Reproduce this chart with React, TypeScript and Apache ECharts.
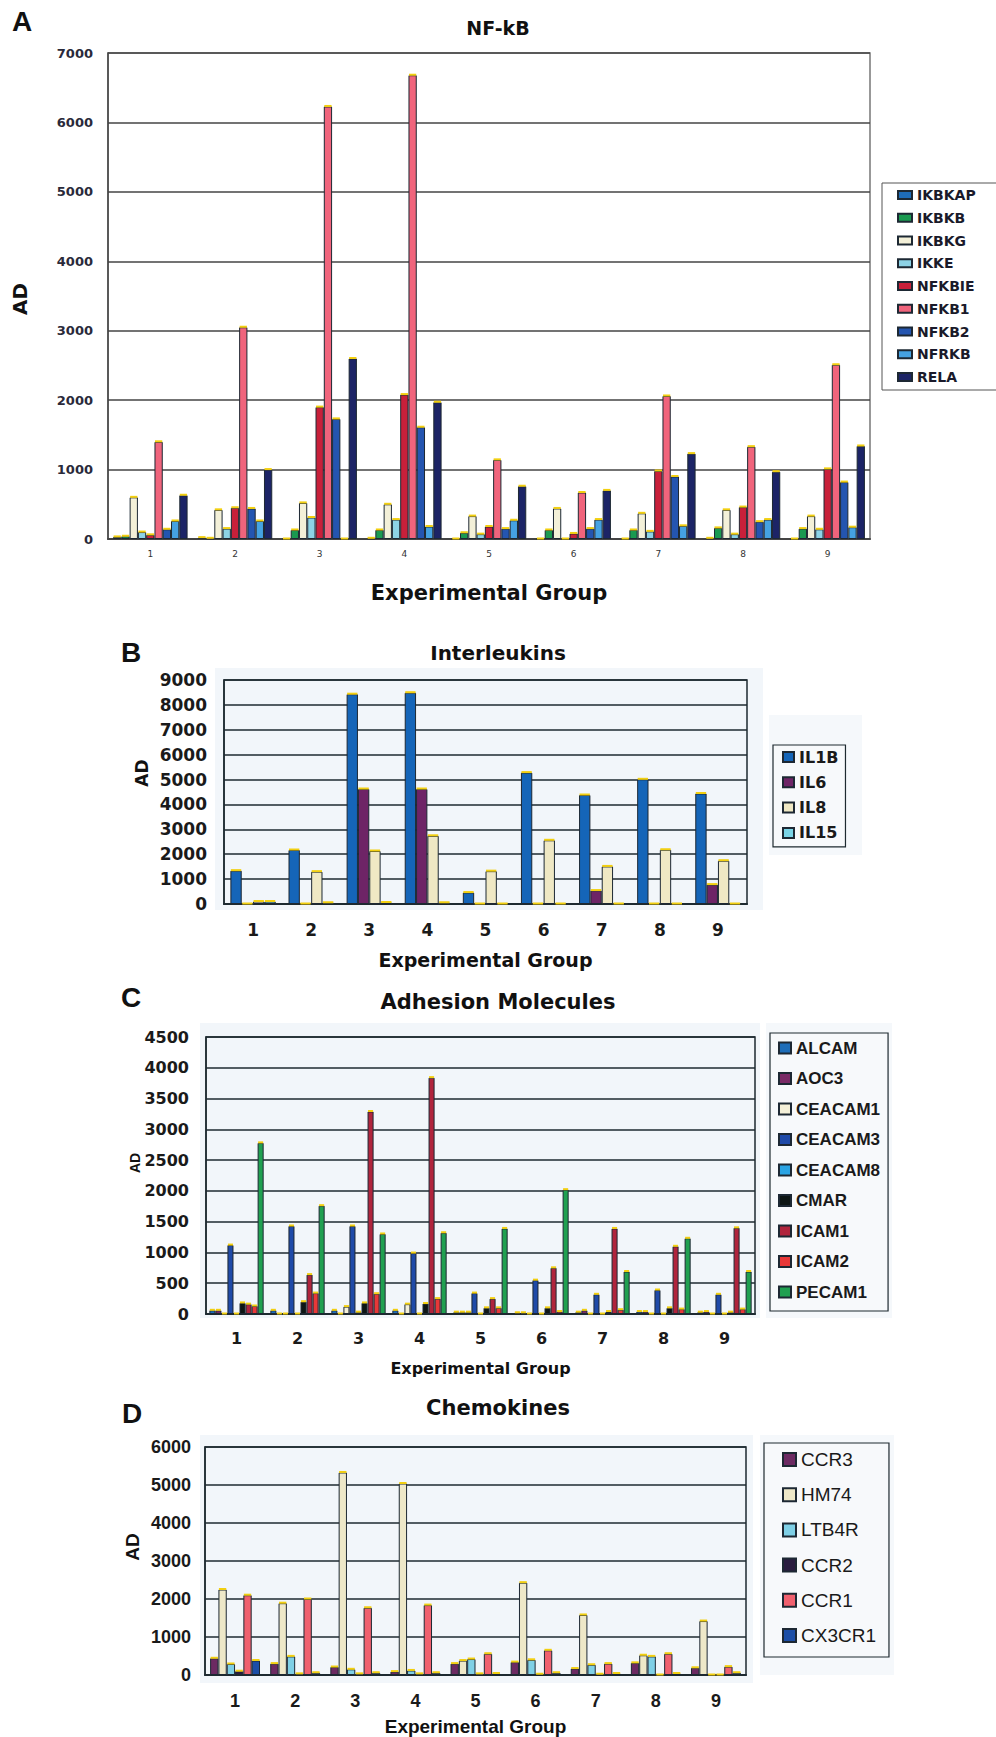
import React, { useEffect, useRef } from 'react';
import * as echarts from 'echarts';

// ---------- shared ----------
const groups = ['1', '2', '3', '4', '5', '6', '7', '8', '9'];

// ---------- Panel A: NF-kB ----------
const nfkbNames = ['IKBKAP', 'IKBKB', 'IKBKG', 'IKKE', 'NFKBIE', 'NFKB1', 'NFKB2', 'NFRKB', 'RELA'];
const ikbkap = [30, 20, 0, 10, 0, 0, 0, 10, 0];
const ikbkb = [40, 10, 130, 130, 90, 130, 130, 160, 150];
const ikbkg = [600, 420, 520, 500, 330, 440, 370, 420, 330];
const ikke = [100, 150, 310, 280, 70, 0, 110, 70, 140];
const nfkbie = [60, 450, 1900, 2080, 180, 80, 980, 460, 1010];
const nfkb1 = [1400, 3050, 6230, 6680, 1140, 670, 2060, 1330, 2510];
const nfkb2 = [140, 440, 1730, 1610, 150, 150, 900, 250, 820];
const nfrkb = [260, 260, 0, 180, 270, 280, 190, 280, 170];
const rela = [630, 1000, 2600, 1970, 760, 700, 1230, 970, 1340];
const nfkbColors = ['#1e6cb8', '#1a9a50', '#f3f0d8', '#8dd3e6', '#c8203a', '#f0647c', '#2455b0', '#45a2e2', '#1c2466'];
const ticksA = [0, 1000, 2000, 3000, 4000, 5000, 6000, 7000];

// ---------- Panel B: Interleukins ----------
const ilNames = ['IL1B', 'IL6', 'IL8', 'IL15'];
const il1b = [1340, 2170, 8430, 8490, 460, 5280, 4380, 5010, 4440];
const il6 = [0, 0, 4620, 4620, 0, 0, 540, 0, 780];
const il8 = [100, 1300, 2130, 2740, 1320, 2560, 1510, 2180, 1740];
const il15 = [100, 50, 60, 50, 0, 0, 0, 0, 0];
const ilColors = ['#1565b8', '#6e2466', '#efe8c4', '#7ad4e6'];
const ticksB = [0, 1000, 2000, 3000, 4000, 5000, 6000, 7000, 8000, 9000];

// ---------- Panel C: Adhesion Molecules ----------
const adhNames = ['ALCAM', 'AOC3', 'CEACAM1', 'CEACAM3', 'CEACAM8', 'CMAR', 'ICAM1', 'ICAM2', 'PECAM1'];
const alcam = [60, 60, 60, 60, 30, 20, 30, 40, 30];
const aoc3 = [60, 0, 0, 0, 30, 20, 60, 40, 40];
const ceacam1 = [0, 0, 120, 160, 30, 0, 0, 0, 0];
const ceacam3 = [1120, 1430, 1430, 990, 340, 550, 320, 390, 320];
const ceacam8 = [0, 0, 30, 0, 0, 0, 0, 0, 0];
const cmar = [180, 200, 180, 170, 100, 100, 40, 100, 30];
const icam1 = [160, 640, 3290, 3840, 250, 750, 1390, 1100, 1400];
const icam2 = [130, 340, 330, 250, 100, 40, 70, 80, 80];
const pecam1 = [2780, 1760, 1300, 1320, 1390, 2020, 690, 1230, 690];
const adhColors = ['#1d6db8', '#7a2a66', '#f4f0d8', '#1f4aa8', '#2aa4e4', '#0e1614', '#b0243c', '#e83838', '#20a050'];
const ticksC = [0, 500, 1000, 1500, 2000, 2500, 3000, 3500, 4000, 4500];

// ---------- Panel D: Chemokines ----------
const chemNames = ['CCR3', 'HM74', 'LTB4R', 'CCR2', 'CCR1', 'CX3CR1'];
const ccr3 = [440, 300, 210, 90, 300, 340, 170, 320, 190];
const hm74 = [2250, 1890, 5330, 5040, 380, 2430, 1580, 520, 1420];
const ltb4r = [290, 490, 150, 120, 420, 400, 270, 490, 0];
const ccr2 = [100, 30, 30, 30, 30, 20, 20, 0, 0];
const ccr1 = [2100, 2000, 1770, 1840, 560, 650, 300, 560, 220];
const cx3cr1 = [380, 60, 60, 60, 40, 60, 40, 40, 60];
const chemColors = ['#6c2a62', '#eee8c8', '#7fd0e6', '#2a1c40', '#f0606e', '#1c4ea6'];
const ticksD = [0, 1000, 2000, 3000, 4000, 5000, 6000];

const DJ = 'DejaVu Sans';
const LS = 'Liberation Sans';

function barSeries(names: string[], data: number[][], colors: string[], idx: number, gap: number) {
  return names.map((n, i) => ({
    type: 'bar',
    name: n,
    xAxisIndex: idx,
    yAxisIndex: idx,
    data: data[i],
    barGap: '0%',
    barCategoryGap: `${gap * 100}%`,
    itemStyle: { color: colors[i], borderColor: '#1d2833', borderWidth: 1 },
    emphasis: { disabled: true },
  }));
}

function capSeries(data: number[][], idx: number, gap: number) {
  const n = data.length;
  const pts: number[][] = [];
  data.forEach((arr, s) => arr.forEach((v, c) => pts.push([c, v, s])));
  return {
    type: 'custom',
    xAxisIndex: idx,
    yAxisIndex: idx,
    silent: true,
    z: 3,
    data: pts,
    renderItem: (_p: any, api: any) => {
      const cat = api.value(0);
      const val = api.value(1);
      const s = api.value(2);
      const c = api.coord([cat, val]);
      const bw = api.size([1, 0])[0];
      const usable = bw * (1 - gap);
      const w = usable / n;
      const x = c[0] - usable / 2 + s * w;
      return {
        type: 'rect',
        shape: { x: x + 0.5, y: c[1] - 1.5, width: w - 1, height: 2 },
        style: { fill: '#f2cf10' },
      };
    },
  };
}

function yAxisCfg(idx: number, ticks: number[], margin: number, font: any, lineColor: string) {
  return {
    type: 'value',
    gridIndex: idx,
    min: ticks[0],
    max: ticks[ticks.length - 1],
    interval: ticks[1] - ticks[0],
    axisLine: { show: true, lineStyle: { color: lineColor, width: 1.5 } },
    axisTick: { show: false },
    axisLabel: { margin, formatter: (v: number) => String(v), ...font },
    splitLine: { show: true, lineStyle: { color: lineColor, width: 1.5 } },
  };
}

function xAxisCfg(idx: number, margin: number, font: any, nameFont: any, nameGap: number, lineColor: string) {
  return {
    type: 'category',
    gridIndex: idx,
    data: groups,
    axisLine: { show: true, lineStyle: { color: lineColor, width: 2 } },
    axisTick: { show: false },
    axisLabel: { margin, ...font },
    name: 'Experimental Group',
    nameLocation: 'middle',
    nameGap,
    nameTextStyle: nameFont,
  };
}

const App: React.FC = () => {
  const ref = useRef<HTMLDivElement>(null);

  useEffect(() => {
    if (!ref.current) return;
    const chart = echarts.init(ref.current, undefined, { renderer: 'svg' });

    const gapA = 0.12;
    const gapB = 0.22;
    const gapC = 0.11;
    const gapD = 0.17;
    const dataA = [ikbkap, ikbkb, ikbkg, ikke, nfkbie, nfkb1, nfkb2, nfrkb, rela];
    const dataB = [il1b, il6, il8, il15];
    const dataC = [alcam, aoc3, ceacam1, ceacam3, ceacam8, cmar, icam1, icam2, pecam1];
    const dataD = [ccr3, hm74, ltb4r, ccr2, ccr1, cx3cr1];

    const dark = '#1e2a30';
    const option: any = {
      animation: false,
      backgroundColor: '#ffffff',
      title: [
        { text: 'NF-kB', left: 'center', top: 18, padding: 0, textStyle: { fontFamily: DJ, fontWeight: 'bold', fontSize: 19, color: '#111' } },
        { text: 'Interleukins', left: 'center', top: 643, padding: 0, textStyle: { fontFamily: DJ, fontWeight: 'bold', fontSize: 20, color: '#111' } },
        { text: 'Adhesion Molecules', left: 'center', top: 991, padding: 0, textStyle: { fontFamily: DJ, fontWeight: 'bold', fontSize: 21, color: '#111' } },
        { text: 'Chemokines', left: 'center', top: 1397, padding: 0, textStyle: { fontFamily: DJ, fontWeight: 'bold', fontSize: 21, color: '#111' } },
      ],
      grid: [
        { left: 108, top: 53, width: 762, height: 486, show: true, borderColor: '#777', borderWidth: 1.5, backgroundColor: '#ffffff' },
        { left: 224, top: 680, width: 523, height: 224, show: true, borderColor: dark, borderWidth: 1.5, backgroundColor: '#f2f6fa' },
        { left: 206, top: 1037, width: 549, height: 277, show: true, borderColor: dark, borderWidth: 1.5, backgroundColor: '#f2f6fa' },
        { left: 205, top: 1447, width: 541, height: 228, show: true, borderColor: dark, borderWidth: 1.5, backgroundColor: '#f2f6fa' },
      ],
      xAxis: [
        xAxisCfg(0, 10, { fontFamily: DJ, fontSize: 9, color: '#333' }, { fontFamily: DJ, fontWeight: 'bold', fontSize: 21, color: '#111' }, 43, '#444'),
        xAxisCfg(1, 17, { fontFamily: DJ, fontWeight: 'bold', fontSize: 17, color: '#1a1a1a' }, { fontFamily: DJ, fontWeight: 'bold', fontSize: 19, color: '#111' }, 46, dark),
        xAxisCfg(2, 16, { fontFamily: DJ, fontWeight: 'bold', fontSize: 16, color: '#1a1a1a' }, { fontFamily: DJ, fontWeight: 'bold', fontSize: 16, color: '#111' }, 46, dark),
        xAxisCfg(3, 17, { fontFamily: LS, fontWeight: 'bold', fontSize: 18, color: '#1a1a1a' }, { fontFamily: LS, fontWeight: 'bold', fontSize: 19, color: '#111' }, 42, dark),
      ],
      yAxis: [
        yAxisCfg(0, ticksA, 15, { fontFamily: DJ, fontWeight: 'bold', fontSize: 13, color: '#2a2a3a' }, '#444'),
        yAxisCfg(1, ticksB, 17, { fontFamily: DJ, fontWeight: 'bold', fontSize: 17, color: '#1a1a1a' }, dark),
        yAxisCfg(2, ticksC, 17, { fontFamily: DJ, fontWeight: 'bold', fontSize: 16, color: '#1a1a1a' }, dark),
        yAxisCfg(3, ticksD, 14, { fontFamily: LS, fontWeight: 'bold', fontSize: 18, color: '#1a1a1a' }, dark),
      ],
      legend: [
        {
          data: nfkbNames, orient: 'vertical', left: 882, top: 183, padding: [4, 30, 5, 15],
          itemWidth: 14, itemHeight: 8, itemGap: 6.75, icon: 'rect',
          borderColor: '#555', borderWidth: 1, backgroundColor: '#ffffff',
          textStyle: { fontFamily: DJ, fontWeight: 'bold', fontSize: 14, lineHeight: 16, color: '#1a1a2a' },
        },
        {
          data: ilNames, orient: 'vertical', left: 773, top: 745, padding: [3, 7, 5, 9],
          itemWidth: 11, itemHeight: 10, itemGap: 7.3, icon: 'rect',
          borderColor: dark, borderWidth: 1.2, backgroundColor: '#f7f9fb',
          textStyle: { fontFamily: DJ, fontWeight: 'bold', fontSize: 16, lineHeight: 18, color: '#1a1a1a' },
        },
        {
          data: adhNames, orient: 'vertical', left: 770, top: 1033, padding: [6, 8, 10, 8],
          itemWidth: 12, itemHeight: 11, itemGap: 12.5, icon: 'rect',
          borderColor: dark, borderWidth: 1.2, backgroundColor: '#f7f9fb',
          textStyle: { fontFamily: LS, fontWeight: 'bold', fontSize: 17, lineHeight: 18, color: '#1a1a1a' },
        },
        {
          data: chemNames, orient: 'vertical', left: 764, top: 1443, padding: [6, 13, 11, 18],
          itemWidth: 13, itemHeight: 13, itemGap: 14.2, icon: 'rect',
          borderColor: dark, borderWidth: 1.2, backgroundColor: '#f7f9fb',
          textStyle: { fontFamily: LS, fontSize: 19, lineHeight: 21, color: '#1a1a1a' },
        },
      ],
      graphic: [
        { type: 'rect', z: -100, silent: true, shape: { x: 215, y: 668, width: 548, height: 242 }, style: { fill: '#f2f6fa' } },
        { type: 'rect', z: -100, silent: true, shape: { x: 769, y: 715, width: 93, height: 140 }, style: { fill: '#f5f8fb' } },
        { type: 'rect', z: -100, silent: true, shape: { x: 200, y: 1023, width: 560, height: 295 }, style: { fill: '#f2f6fa' } },
        { type: 'rect', z: -100, silent: true, shape: { x: 766, y: 1023, width: 126, height: 295 }, style: { fill: '#f5f8fb' } },
        { type: 'rect', z: -100, silent: true, shape: { x: 200, y: 1435, width: 553, height: 248 }, style: { fill: '#f2f6fa' } },
        { type: 'rect', z: -100, silent: true, shape: { x: 760, y: 1435, width: 134, height: 240 }, style: { fill: '#f5f8fb' } },
        { type: 'text', x: 22, y: 21, style: { text: 'A', fontFamily: LS, fontWeight: 'bold', fontSize: 28, fill: '#111', align: 'center', verticalAlign: 'middle' } },
        { type: 'text', x: 131, y: 652, style: { text: 'B', fontFamily: LS, fontWeight: 'bold', fontSize: 28, fill: '#111', align: 'center', verticalAlign: 'middle' } },
        { type: 'text', x: 131, y: 997, style: { text: 'C', fontFamily: LS, fontWeight: 'bold', fontSize: 28, fill: '#111', align: 'center', verticalAlign: 'middle' } },
        { type: 'text', x: 132, y: 1413, style: { text: 'D', fontFamily: LS, fontWeight: 'bold', fontSize: 28, fill: '#111', align: 'center', verticalAlign: 'middle' } },
        { type: 'text', x: 20, y: 299, rotation: Math.PI / 2, style: { text: 'AD', fontFamily: DJ, fontWeight: 'bold', fontSize: 20, fill: '#111', align: 'center', verticalAlign: 'middle' } },
        { type: 'text', x: 142, y: 773, rotation: Math.PI / 2, style: { text: 'AD', fontFamily: DJ, fontWeight: 'bold', fontSize: 17, fill: '#111', align: 'center', verticalAlign: 'middle' } },
        { type: 'text', x: 135, y: 1163, rotation: Math.PI / 2, style: { text: 'AD', fontFamily: LS, fontWeight: 'bold', fontSize: 14, fill: '#111', align: 'center', verticalAlign: 'middle' } },
        { type: 'text', x: 132, y: 1547, rotation: Math.PI / 2, style: { text: 'AD', fontFamily: LS, fontWeight: 'bold', fontSize: 19, fill: '#111', align: 'center', verticalAlign: 'middle' } },
      ],
      series: [
        ...barSeries(nfkbNames, dataA, nfkbColors, 0, gapA),
        ...barSeries(ilNames, dataB, ilColors, 1, gapB),
        ...barSeries(adhNames, dataC, adhColors, 2, gapC),
        ...barSeries(chemNames, dataD, chemColors, 3, gapD),
        capSeries(dataA, 0, gapA),
        capSeries(dataB, 1, gapB),
        capSeries(dataC, 2, gapC),
        capSeries(dataD, 3, gapD),
      ],
    };

    chart.setOption(option);
    return () => chart.dispose();
  }, []);

  return (
    <div
      ref={ref}
      style={{ position: 'absolute', left: 0, top: 0, width: 996, height: 1737, background: '#fff' }}
    />
  );
};

export default App;
